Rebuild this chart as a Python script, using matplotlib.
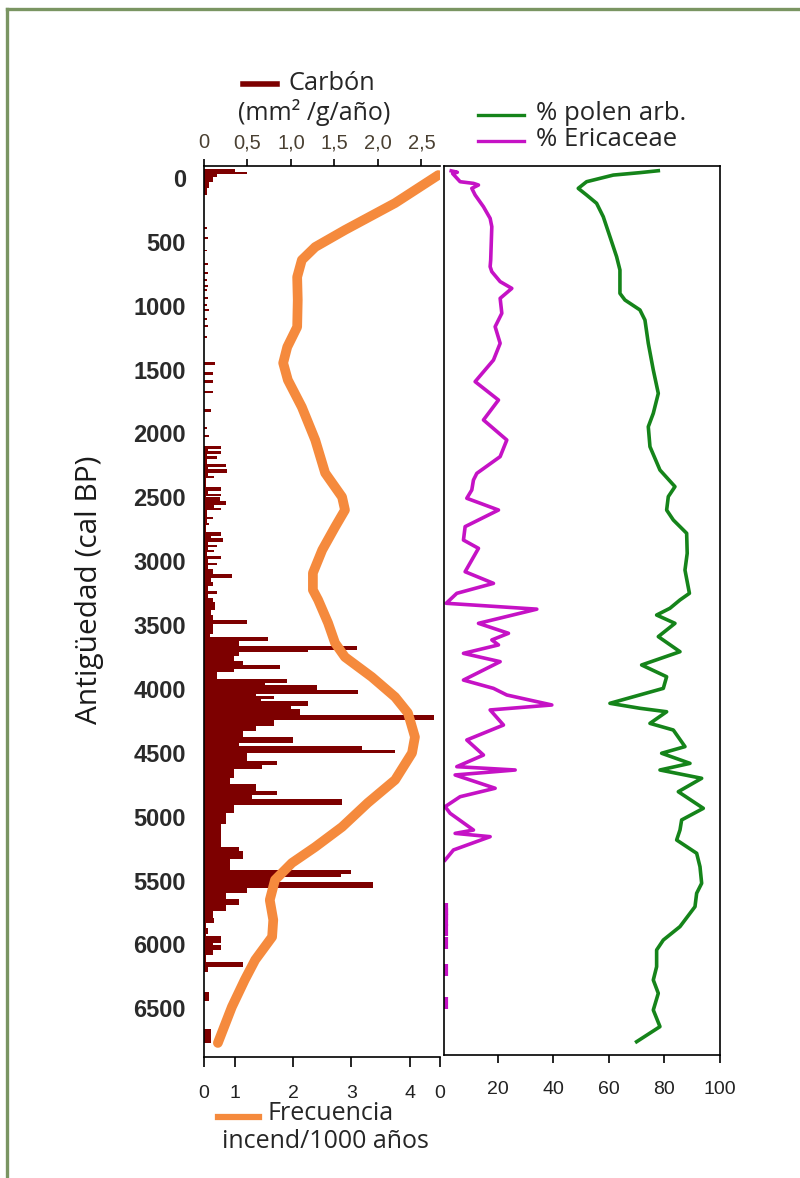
import numpy as np
import matplotlib
matplotlib.use("Agg")
import matplotlib.pyplot as plt
from matplotlib.lines import Line2D

plt.rcParams['font.family'] = ['Liberation Sans', 'DejaVu Sans']

# --- data ---
age_ticks = [0, 500, 1000, 1500, 2000, 2500, 3000, 3500, 4000, 4500, 5000, 5500, 6000, 6500]
char_ticks = [0, 0.5, 1.0, 1.5, 2.0, 2.5]
char_ticklabels = ['0', '0,5', '1,0', '1,5', '2,0', '2,5']
freq_ticks = [0.472, 1, 2, 3, 4, 4.52]
freq_ticklabels = ['0', '1', '2', '3', '4', '0']
pct_ticks = [20, 40, 60, 80, 100]

# charcoal (mm2/g/yr): value holds from this age to the next one
char_age = [-70, -50, -35, -10, 30, 80, 130,
            385, 400, 465, 480, 560, 575, 665, 680, 735, 750, 790, 805, 840, 855, 870, 885,
            930, 945, 985, 1000, 1025, 1040, 1095, 1110, 1150, 1165, 1240, 1255,
            1440, 1465, 1520, 1540, 1585, 1605, 1665, 1685, 1810, 1830, 1950, 1965, 2015, 2030,
            2095, 2120, 2135, 2160, 2175, 2200, 2235, 2260, 2280, 2310, 2330, 2350, 2420, 2450,
            2470, 2490, 2500, 2530, 2560, 2580, 2600, 2650, 2670, 2700, 2720, 2770, 2800, 2820,
            2850, 2870, 2890, 2910, 2930, 2960, 2985, 3010, 3030, 3060, 3100, 3130, 3160, 3190,
            3230, 3260, 3290, 3320, 3380, 3420, 3460, 3490, 3570, 3590, 3625, 3665, 3695, 3710,
            3745, 3780, 3810, 3840, 3870, 3925, 3955, 3970, 4005, 4040, 4055, 4080, 4095, 4130,
            4160, 4200, 4245, 4290, 4330, 4375, 4420, 4445, 4475, 4505, 4560, 4595, 4625, 4700,
            4745, 4795, 4830, 4860, 4910, 4970, 5060, 5195, 5240, 5265, 5330, 5420, 5445, 5470,
            5510, 5555, 5595, 5645, 5690, 5740, 5790, 5835, 5870, 5920, 5935, 5985, 6005, 6045,
            6080, 6135, 6180, 6215, 6375, 6440, 6660, 6770]
char_val = [0.36, 0.5, 0.15, 0.1, 0.06, 0.03, 0,
            0.04, 0, 0.05, 0, 0.04, 0, 0.05, 0, 0.05, 0, 0.04, 0, 0.05, 0, 0.04, 0,
            0.05, 0, 0.04, 0, 0.06, 0, 0.04, 0, 0.05, 0, 0.04, 0,
            0.13, 0, 0.1, 0, 0.1, 0, 0.1, 0, 0.08, 0, 0.03, 0, 0.06, 0,
            0.2, 0.05, 0.2, 0.03, 0.15, 0.03, 0.25, 0.05, 0.27, 0.05, 0.12, 0.02, 0.2, 0.05,
            0.2, 0.02, 0.18, 0.25, 0.12, 0.2, 0.03, 0.1, 0.03, 0.06, 0.02, 0.2, 0.08, 0.22,
            0.05, 0.15, 0.05, 0.12, 0.03, 0.2, 0.05, 0.15, 0.05, 0.1, 0.32, 0.08, 0.1, 0.05,
            0.15, 0.05, 0.1, 0.13, 0.08, 0.1, 0.5, 0.1, 0.07, 0.73, 0.4, 1.76, 1.2, 0.4,
            0.35, 0.45, 0.87, 0.35, 0.15, 0.95, 0.7, 1.3, 1.77, 0.6, 0.8, 0.65, 1.2, 1.0,
            1.1, 2.64, 0.8, 0.6, 0.45, 1.02, 0.4, 1.82, 2.19, 0.5, 0.84, 0.67, 0.35, 0.3,
            0.6, 0.84, 0.55, 1.59, 0.35, 0.25, 0.2, 0.2, 0.4, 0.45, 0.3, 1.69, 1.57, 0.8,
            1.94, 0.5, 0.25, 0.4, 0.25, 0.1, 0.12, 0.02, 0.05, 0.02, 0.2, 0.1, 0.2, 0.1,
            0.02, 0.45, 0.05, 0, 0.06, 0, 0.08, 0]

# fire frequency (fires/1000 yr)
freq_age = [-23, 196, 407, 540, 642, 775, 955, 1166, 1323, 1448, 1581, 1793, 2051, 2309,
            2497, 2599, 2732, 2912, 3092, 3225, 3303, 3483, 3640, 3750, 3906, 4063, 4188,
            4376, 4501, 4712, 4892, 5080, 5237, 5362, 5495, 5652, 5808, 5941, 6121, 6278,
            6489, 6771]
freq_val = [4.49, 3.75, 2.89, 2.38, 2.15, 2.07, 2.08, 2.07, 1.90, 1.83, 1.91, 2.15, 2.38, 2.55,
            2.84, 2.89, 2.72, 2.50, 2.34, 2.34, 2.43, 2.60, 2.72, 2.89, 3.35, 3.75, 3.97,
            4.09, 4.04, 3.75, 3.28, 2.84, 2.38, 1.98, 1.69, 1.60, 1.66, 1.64, 1.35, 1.17,
            0.95, 0.71]

# arboreal pollen %
pol_age = [-57, -42, -23, 29, 81, 133, 198, 303, 459, 616, 720, 903, 955, 1033, 1112, 1294,
           1503, 1686, 1842, 1947, 2103, 2286, 2416, 2494, 2599, 2677, 2781, 2938, 3069, 3251,
           3303, 3368, 3421, 3486, 3590, 3708, 3812, 3904, 3995, 4112, 4151, 4178, 4269, 4321,
           4451, 4503, 4582, 4634, 4699, 4804, 4934, 5025, 5104, 5182, 5286, 5391, 5521, 5599,
           5704, 5860, 5965, 6043, 6174, 6278, 6382, 6513, 6643, 6761]
pol_val = [77.8, 71.2, 61.6, 52.0, 49.0, 52.0, 55.6, 58.0, 60.4, 62.8, 64.0, 64.0, 65.8, 71.2,
           73.0, 74.2, 76.0, 77.8, 76.0, 74.2, 74.8, 78.4, 83.8, 81.4, 80.8, 83.2, 88.0, 88.2,
           87.4, 89.0, 85.6, 82.0, 77.2, 83.8, 77.8, 85.6, 71.8, 80.8, 79.6, 60.4, 71.2, 80.8,
           74.8, 83.2, 87.4, 79.0, 89.2, 78.4, 93.4, 85.0, 94.0, 86.2, 85.6, 84.4, 91.6, 92.8,
           93.4, 91.6, 91.0, 85.6, 79.6, 77.2, 77.2, 76.0, 77.8, 76.0, 78.4, 70.0]

# Ericaceae %
eric_age = [-56, -45, -35, 29, 42, 55, 81, 133, 225, 316, 381, 642, 694, 733, 811, 864, 942,
            1059, 1164, 1294, 1425, 1594, 1738, 1894, 2051, 2181, 2312, 2364, 2442, 2507, 2599,
            2729, 2834, 2899, 3082, 3173, 3251, 3329, 3375, 3486, 3564, 3616, 3655, 3721, 3786,
            3930, 3995, 4047, 4125, 4164, 4282, 4399, 4517, 4608, 4634, 4673, 4777, 4843, 4921,
            4973, 5104, 5130, 5156, 5260, 5339]
eric_val = [3.3, 5.5, 3.8, 6.5, 11.3, 13.1, 10.7, 11.9, 14.9, 17.3, 17.9, 17.5, 17.3, 17.9,
            20.9, 25.1, 20.9, 21.5, 19.1, 20.9, 18.5, 11.9, 20.3, 14.9, 23.3, 20.9, 12.5, 11.3,
            10.7, 8.9, 20.3, 8.3, 7.7, 13.1, 8.3, 18.5, 5.3, 1.5, 34.1, 13.1, 23.9, 17.9,
            20.3, 7.7, 20.9, 7.7, 18.5, 23.3, 39.5, 17.3, 22.1, 8.9, 14.9, 5.3, 26.3, 4.7,
            19.1, 6.5, 1.1, 2.9, 11.3, 4.7, 17.3, 4.1, 1.1]
eric_dot_age = [5725, 5765, 5805, 5885, 5990, 6200, 6460]
eric_dot_val = [1.5, 1.5, 1.5, 1.5, 1.5, 1.5, 1.5]

W, H = 800, 1178


def box(x0, y0, x1, y1):
    return [x0 / W, 1 - y1 / H, (x1 - x0) / W, (y1 - y0) / H]


fig = plt.figure(figsize=(8, 11.78), dpi=100)

# left panel: charcoal (top axis) + fire frequency (bottom axis)
ax = fig.add_axes(box(204, 166, 440, 1057))
ax2 = ax.twiny()   # twiny moves ax ticks to the bottom, so set ax up afterwards

ax.fill_betweenx(char_age, 0, char_val, step='post', color='#7d0000', lw=0)
ax.set_xlim(0, 2.713)
ax.set_ylim(6881, -94)
ax.xaxis.tick_top()
ax.set_xticks(char_ticks)
ax.set_xticklabels(char_ticklabels)
ax.set_yticks(age_ticks)
ax.set_yticklabels([str(a) for a in age_ticks], fontweight='bold')
ax.tick_params(axis='y', length=0, pad=13, labelsize=17, labelcolor='#2a2a2a')
ax.tick_params(axis='x', top=True, bottom=False, labeltop=True, labelbottom=False,
               length=5, width=1.2, pad=5, labelsize=14.5, labelcolor='#4a4032')
for s in ['right', 'bottom']:
    ax.spines[s].set_visible(False)
for s in ['left', 'top']:
    ax.spines[s].set_linewidth(1.2)

ax2.plot(freq_val, freq_age, color='#f58a3d', lw=7, solid_capstyle='round', zorder=3)
ax2.set_xlim(0.472, 4.52)
ax2.xaxis.tick_bottom()
ax2.set_xticks(freq_ticks)
ax2.set_xticklabels(freq_ticklabels)
ax2.tick_params(axis='x', top=False, bottom=True, labeltop=False, labelbottom=True,
                length=7, width=1.2, pad=13, labelsize=14, labelcolor='#222222')
for s in ['top', 'right', 'left']:
    ax2.spines[s].set_visible(False)
ax2.spines['bottom'].set_linewidth(1.2)

# right panel: pollen percentages
axr = fig.add_axes(box(444, 166, 720, 1055))
axr.plot(pol_val, pol_age, color='#15841a', lw=2.6)
axr.plot(eric_val, eric_age, color='#c512c5', lw=2.6)
axr.plot(eric_dot_val, eric_dot_age, ls='none', marker='|', ms=8, mew=3, color='#c512c5')
axr.set_xlim(0.7, 100)
axr.set_ylim(6865, -94)
axr.set_yticks([])
axr.set_xticks(pct_ticks)
axr.tick_params(axis='x', length=6, width=1.2, pad=13, labelsize=14, labelcolor='#222222')
for s in axr.spines.values():
    s.set_linewidth(1.2)

# frame
frame = '#7a9562'
fig.add_artist(Line2D([6.5 / W, 1], [1 - 8.5 / H, 1 - 8.5 / H], color=frame, lw=2.4,
                      transform=fig.transFigure))
fig.add_artist(Line2D([6.5 / W, 6.5 / W], [0, 1 - 8.5 / H], color=frame, lw=2.4,
                      transform=fig.transFigure))

# legends / labels
tf = fig.transFigure
txt = dict(family=['Open Sans', 'DejaVu Sans'], color='#262626', va='center')
fig.add_artist(Line2D([243 / W, 277 / W], [1 - 84 / H] * 2, color='#7d0000', lw=4, transform=tf))
fig.text(289 / W, 1 - 84 / H, 'Carbón', fontsize=18.3, **txt)
fig.text(314 / W, 1 - 112 / H, '(mm² /g/año)', fontsize=18, ha='center', **txt)

fig.add_artist(Line2D([478 / W, 524 / W], [1 - 115 / H] * 2, color='#15841a', lw=2.4, transform=tf))
fig.text(536 / W, 1 - 113 / H, '% polen arb.', fontsize=18.5, **txt)
fig.add_artist(Line2D([478 / W, 524 / W], [1 - 141 / H] * 2, color='#c512c5', lw=2.4, transform=tf))
fig.text(536 / W, 1 - 139 / H, '% Ericaceae', fontsize=18.5, **txt)

fig.add_artist(Line2D([218 / W, 259 / W], [1 - 1117 / H] * 2, color='#f58a3d', lw=4.5, transform=tf))
fig.text(268 / W, 1 - 1114 / H, 'Frecuencia', fontsize=18, **txt)
fig.text(325 / W, 1 - 1141 / H, 'incend/1000 años', fontsize=18, ha='center', **txt)

fig.text(90 / W, 1 - 590 / H, 'Antigüedad (cal BP)', fontsize=21.5, rotation=90,
         ha='center', family=['Open Sans', 'DejaVu Sans'], color='#1a1a1a', va='center')

fig.savefig('out.png', dpi=100, facecolor='white')
